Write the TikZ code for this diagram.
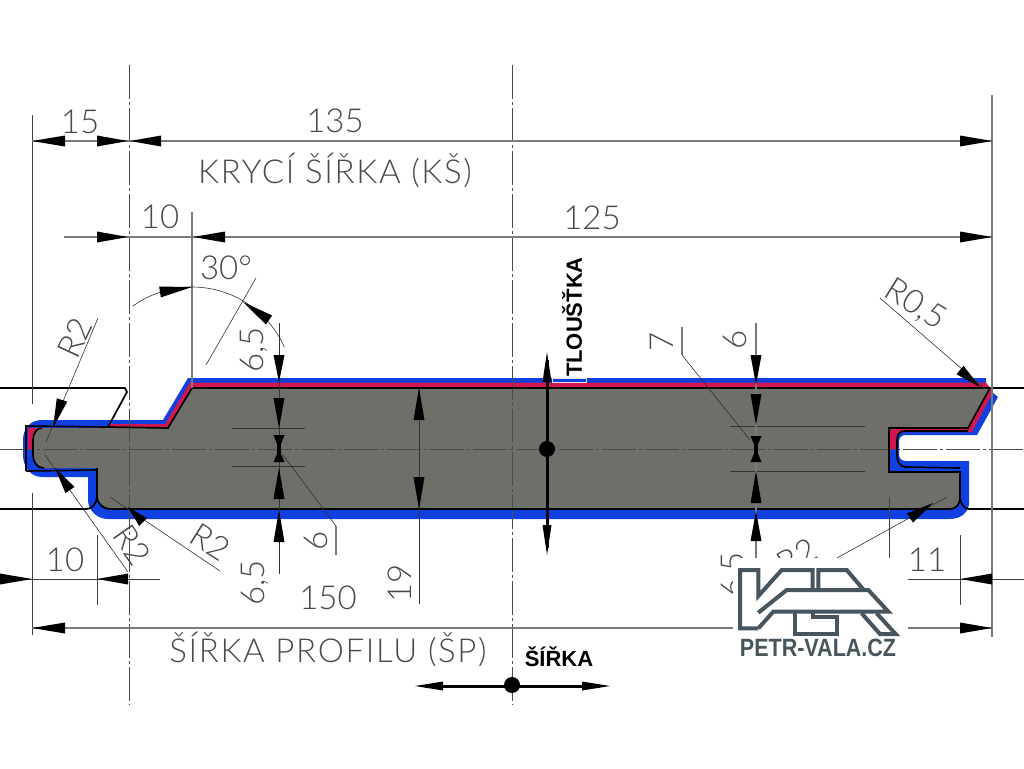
\documentclass[tikz,border=0pt]{standalone}
\usepackage{fontspec}
\setmainfont{Liberation Sans}
\newfontfamily\cadfont{Lato Light}
\newfontfamily\cadwide[LetterSpace=5]{Lato Light}
\usetikzlibrary{calc}
\definecolor{bandblue}{HTML}{1040E0}
\definecolor{bandred}{HTML}{D01850}
\definecolor{bodygray}{HTML}{6E6F68}
\definecolor{logoc}{HTML}{47555F}
\definecolor{dimc}{HTML}{7A7A7A}
\definecolor{txtc}{HTML}{4A4A4A}
\tikzset{
  dimline/.style={draw=dimc,line width=1.2pt},
  darkline/.style={draw=black!75,line width=0.9pt},
  thinline/.style={draw=black!80,line width=0.6pt},
  axisline/.style={draw=black!70,line width=0.8pt,dash pattern=on 34pt off 3pt on 3pt off 3pt},
  profile/.style={draw=black,line width=1.7pt},
  cadtxt/.style={font=\cadfont\fontsize{33}{33}\selectfont,text=txtc,inner sep=0pt},
  cadlong/.style={font=\cadwide\fontsize{33}{33}\selectfont,text=txtc,inner sep=0pt},
  boldtxt/.style={font=\bfseries\fontsize{22}{22}\selectfont,text=black,inner sep=0pt},
  logoline/.style={draw=logoc,line width=4pt,miter limit=6}
}
\newcommand\tri[3][5.5pt]{\fill[black] (#2) -- ($(#3)!#1!90:(#2)$) -- ($(#3)!#1!-90:(#2)$) -- cycle;}
\begin{document}
\begin{tikzpicture}[x=1pt,y=-1pt]
\useasboundingbox (0,0) rectangle (1024,768);
\fill[white] (0,0) rectangle (1024,768);
% band layers
\fill[bandblue] (188,378) -- (986,378) -- (986,387) -- (998,397) -- (977,435) -- (906,435)
  .. controls (901,435) and (899,438) .. (899,442) -- (899,454) .. controls (899,459) and (902,461) .. (906,461)
  -- (969,461) -- (969,503) .. controls (969,512) and (961,519) .. (950,519) -- (108,519)
  .. controls (97,519) and (88,510) .. (88,500) -- (88,477) -- (42,477)
  .. controls (30,477) and (23,466) .. (23,455) -- (23,440) .. controls (23,429) and (30,420) .. (42,420) -- (163,420) -- cycle;
\fill[bandred] (190,382.5) -- (986,382.5) -- (993,392) -- (972,432) -- (904,432)
  .. controls (899,432) and (897,435) .. (897,440) -- (897,449) -- (28,449) -- (28,428) -- (108,428) -- (108,424) -- (165,424) -- cycle;
\fill[bodygray] (42,428) -- (168,428) -- (192,388) -- (990,388) -- (968,428) -- (889,428) -- (889,471)
  -- (960,471) -- (960,498) .. controls (960,504) and (956,509) .. (950,509) -- (110,509)
  .. controls (103,509) and (97,503) .. (97,497) -- (97,468) -- (44,468)
  .. controls (37,468) and (33,462) .. (33,455) -- (33,440) .. controls (33,433) and (37,428) .. (42,428) -- cycle;
% thin lines in the body
\draw[thinline] (232,428) -- (305,428) (232,466) -- (305,466);
\draw[thinline] (730,426) -- (865,426) (730,471) -- (865,471);
% axes
\draw[axisline] (0,449) -- (1024,449);
\draw[axisline] (129,65) -- (129,705);
\draw[axisline] (512,65) -- (512,705);
% profile outlines
\draw[profile] (26,471) -- (26,426) -- (108,427) -- (168,428) -- (192,388) -- (990,388) -- (968,428) -- (889,428) -- (889,472) -- (960,472) -- (960,498);
\draw[profile] (26,471) -- (97,470);
\draw[profile] (42,428) .. controls (37,428) and (33,433) .. (33,440) -- (33,455) .. controls (33,462) and (37,468) .. (44,468);
\draw[profile] (97,468) -- (97,497) .. controls (97,503) and (103,509) .. (110,509) -- (950,509) .. controls (956,509) and (960,504) .. (960,498);
\draw[profile] (0,388) -- (125,388) -- (127,392) -- (108,427);
\draw[profile] (990,388) -- (1024,388);
\draw[profile] (0,509) -- (87,509) .. controls (92,509) and (97,503) .. (97,497);
\draw[profile] (960,498) .. controls (961,504) and (964,509) .. (969,509) -- (1024,509);
\draw[profile] (968,431) -- (905,431) .. controls (900,431) and (897,434) .. (897,440) -- (897,456) .. controls (897,462) and (900,466) .. (905,467) -- (960,468);
% extension lines
\draw[darkline] (32,115) -- (32,404) (32,493) -- (32,635);
\draw[dimline] (992,95) -- (992,637);
\draw[dimline] (192,212) -- (192,388);
\draw[darkline] (97,535) -- (97,605);
\draw[darkline] (960,535) -- (960,605);
\draw[darkline] (889,497) -- (889,560);
% dimension lines
\draw[dimline] (32,141) -- (992,141);
\draw[dimline] (64,237) -- (992,237);
\draw[darkline] (0,579) -- (160,579);
\draw[darkline] (908,579) -- (1024,579);
\draw[dimline] (32,628) -- (992,628);
\tri{32,141}{65,141} \tri{128,141}{97,141} \tri{130,141}{161,141} \tri{992,141}{960,141}
\tri{128,237}{97,237} \tri{193,237}{225,237} \tri{992,237}{960,237}
\tri{32,579}{0,579} \tri{97,579}{128,579} \tri{960,579}{992,579}
\tri{32,628}{65,628} \tri{992,628}{960,628}
% vertical dimensions
\draw[thinline] (279,323) -- (279,574);
\tri{279,382}{279,355} \tri{279,428}{279,398} \tri{279,449}{279,435} \tri{279,449}{279,462}
\draw[black,line width=4pt] (279,436) -- (279,462);
\tri{279,468}{279,499} \tri{279,510}{279,542}
\draw[dimline] (756,323) -- (756,558);
\tri{756,385}{756,355} \tri{756,425}{756,394} \tri{756,449}{756,436} \tri{756,449}{756,462}
\draw[black,line width=4pt] (756,436) -- (756,462);
\tri{756,471}{756,503} \tri{756,511}{756,541}
\draw[thinline] (419,388) -- (419,604);
\tri{419,388}{419,420} \tri{419,509}{419,477}
% leaders
\draw[thinline] (98,318) -- (46,442); \tri{53,428}{62,400}
\draw[thinline] (45,455) -- (128,572); \tri{55,468}{70,490}
\draw[thinline] (110,497) -- (220,571); \tri{128,507}{143,522}
\draw[thinline] (880,298) -- (985,389); \tri{980,387}{960,370}
\draw[thinline] (947,497) -- (837,558); \tri{933,503}{910,518}
\draw[thinline] (206,365) -- (256,278);
\draw[thinline] plot[domain=24:126,samples=40,smooth] ({192+101*cos(\x)},{388-101*sin(\x)});
\tri{192,287}{160,292} \tri{243,302}{269,320}
\draw[thinline] (283,455) -- (336,526);
\draw[dimline] (336,526) -- (336,555);
\draw[thinline] (750,440) -- (682,355);
\draw[dimline] (682,355) -- (682,327);
% dimension texts
\node[cadtxt] (t15) at (80,122) {15};
\node[cadtxt] (t135) at (335,121) {135};
\node[cadlong] (tks) at (335,170) {KRYCÍ ŠÍŘKA (KŠ)};
\node[cadtxt] (t10a) at (160,217) {10};
\node[cadtxt] (t125) at (592,218) {125};
\node[cadtxt] (t30) at (226,268) {30°};
\node[cadtxt,rotate=65] (tr2a) at (75,338) {R2};
\node[cadtxt,rotate=90] (t65a) at (254,350) {6,5};
\node[cadtxt,rotate=90] (t7) at (662,342) {7};
\node[cadtxt,rotate=90] (t6a) at (735,340) {6};
\node[cadtxt,rotate=-32] (tr05) at (915,305) {R0,5};
\node[cadtxt,rotate=-55] (tr2b) at (132,545) {R2};
\node[cadtxt,rotate=-32] (tr2c) at (210,542) {R2};
\node[cadtxt,rotate=90] (t6b) at (316,541) {6};
\node[cadtxt,rotate=90] (t65b) at (255,583) {6,5};
\node[cadtxt,rotate=90] (t19) at (400,583) {19};
\node[cadtxt] (t150) at (328,598) {150};
\node[cadtxt] (t10b) at (65,560) {10};
\node[cadtxt] (t11) at (927,560) {11};
\node[cadlong] (tsp) at (328,649) {ŠÍŘKA PROFILU (ŠP)};
\node[cadtxt,rotate=90] (t65c) at (735,575) {6,5};
\node[cadtxt,rotate=30] (tr2d) at (797,556) {R2};
% bold markers
\draw[black,line width=3pt] (547,360) -- (547,548);
\tri[4.5pt]{547,352}{547,382} \tri[4.5pt]{547,555}{547,525}
\fill[black] (547,449) circle (8);
\draw[black,line width=3pt] (425,686) -- (600,686);
\tri[4.5pt]{415,686}{443,686} \tri[4.5pt]{610,686}{582,686}
\fill[black] (512,685) circle (8);
\node[boldtxt,rotate=90] (ttl) at (572,317) {TLOUŠŤKA};
\node[boldtxt] (tsi) at (559,657) {ŠÍŘKA};
\draw[white!80!gray,line width=0.7pt] (552,378) rectangle (586,382);
% logo
\fill[white] (733,558) rectangle (908,668);
\begin{scope}[shift={(730,560)},x=0.3333pt,y=-0.3333pt]
\draw[logoline] (85,205) -- (30,205) -- (30,30) -- (85,30) -- (85,108) -- (155,30) -- (248,30) -- (248,88);
\draw[logoline] (85,158) -- (170,90) -- (415,90) -- (475,155) -- (130,155) -- (85,205);
\draw[logoline] (265,88) -- (265,30) -- (350,30) -- (400,88);
\draw[logoline] (250,160) -- (250,170) -- (320,170) -- (320,222) -- (195,222) -- (195,160);
\draw[logoline] (395,160) -- (450,222) -- (497,222) -- (440,160);
\end{scope}
\node[font=\bfseries\fontsize{25}{25}\selectfont,text=logoc,inner sep=0pt,xscale=0.86] (tlogo) at (818,648) {PETR-VALA.CZ};
\end{tikzpicture}
\end{document}
